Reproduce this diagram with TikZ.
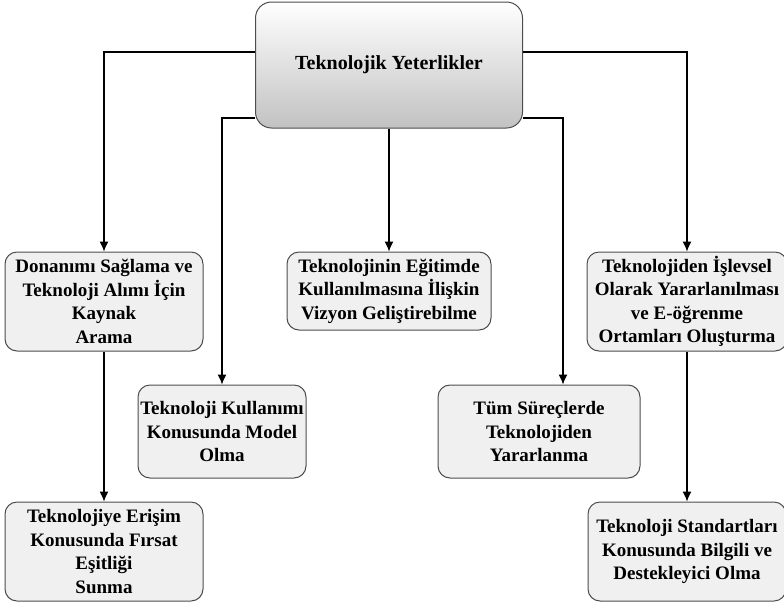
\documentclass[tikz,border=0pt]{standalone}
\usepackage{fontspec}
\setmainfont{Liberation Serif}
\usetikzlibrary{positioning,arrows.meta}
\tikzset{>={Latex[length=10pt,width=9pt]}}
\tikzset{
  kutu/.style={draw=black!70, fill=black!6, rounded corners=12pt, line width=1pt,
    align=center, inner sep=0pt, font=\bfseries\fontsize{19}{23.5}\selectfont},
  anakutu/.style={kutu, top color=white, bottom color=black!24, rounded corners=16pt,
    font=\bfseries\fontsize{20}{24}\selectfont},
  ok/.style={->, line width=1.2pt}
}

\begin{document}
\begin{tikzpicture}[x=1pt, y=-1pt]
  \useasboundingbox (0,0) rectangle (784,603);

  % Nodes
  \node[anakutu, minimum width=267, minimum height=126] (ana) at (389,65) {Teknolojik Yeterlikler};
  \node[kutu, minimum width=198, minimum height=99] (donanim) at (104,301.5)
    {Donanımı Sağlama ve\\Teknoloji Alımı İçin\\Kaynak\\Arama};
  \node[kutu, minimum width=204, minimum height=78] (vizyon) at (389,291)
    {Teknolojinin Eğitimde\\Kullanılmasına İlişkin\\Vizyon Geliştirebilme};
  \node[kutu, minimum width=200, minimum height=99] (islevsel) at (687,301.5)
    {Teknolojiden İşlevsel\\Olarak Yararlanılması\\ve E-öğrenme\\Ortamları Oluşturma};
  \node[kutu, minimum width=168, minimum height=93] (model) at (222,431.5)
    {Teknoloji Kullanımı\\Konusunda Model\\Olma};
  \node[kutu, minimum width=202, minimum height=93] (surec) at (539,431.5)
    {Tüm Süreçlerde\\Teknolojiden\\Yararlanma};
  \node[kutu, minimum width=198, minimum height=99] (erisim) at (104,551.5)
    {Teknolojiye Erişim\\Konusunda Fırsat\\Eşitliği\\Sunma};
  \node[kutu, minimum width=198, minimum height=99] (standart) at (687,551.5)
    {Teknoloji Standartları\\Konusunda Bilgili ve\\Destekleyici Olma};

  % Edges
  \draw[ok] ([yshift=13]ana.west) -| (donanim.north);
  \draw[ok] ([yshift=-53]ana.west) -| (model.north);
  \draw[ok] (ana.south) -- (vizyon.north);
  \draw[ok] ([yshift=-53]ana.east) -| ([xshift=24]surec.north);
  \draw[ok] ([yshift=13]ana.east) -| (islevsel.north);
  \draw[ok] (donanim.south) -- (erisim.north);
  \draw[ok] (islevsel.south) -- (standart.north);

\end{tikzpicture}
\end{document}
